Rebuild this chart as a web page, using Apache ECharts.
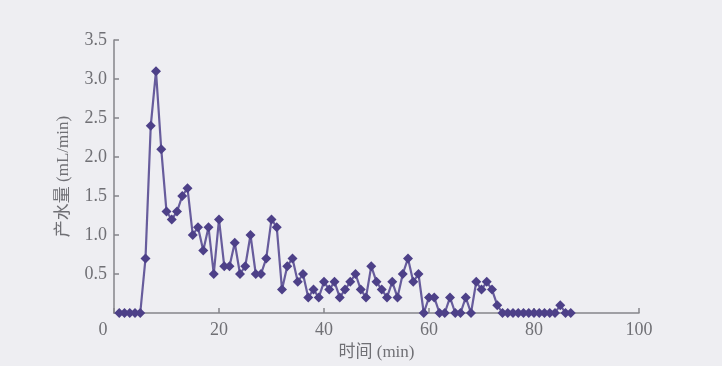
<!DOCTYPE html>
<html>
<head>
<meta charset="utf-8">
<script src="https://cdn.jsdelivr.net/npm/echarts@6/dist/echarts.min.js"></script>
<style>
  html, body { margin: 0; padding: 0; background: #eeeef2; }
  #main { width: 722px; height: 366px; }
</style>
</head>
<body>
<div id="main"></div>
<script>
// 时间 (min)
var minutes = [];
for (var m = 1; m <= 87; m++) minutes.push(m);

// 产水量 (mL/min), one reading per minute
var water = [
  0, 0, 0, 0, 0, 0.7, 2.4, 3.1, 2.1, 1.3,
  1.2, 1.3, 1.5, 1.6, 1.0, 1.1, 0.8, 1.1, 0.5, 1.2,
  0.6, 0.6, 0.9, 0.5, 0.6, 1.0, 0.5, 0.5, 0.7, 1.2,
  1.1, 0.3, 0.6, 0.7, 0.4, 0.5, 0.2, 0.3, 0.2, 0.4,
  0.3, 0.4, 0.2, 0.3, 0.4, 0.5, 0.3, 0.2, 0.6, 0.4,
  0.3, 0.2, 0.4, 0.2, 0.5, 0.7, 0.4, 0.5, 0, 0.2,
  0.2, 0, 0, 0.2, 0, 0, 0.2, 0, 0.4, 0.3,
  0.4, 0.3, 0.1, 0, 0, 0, 0, 0, 0, 0,
  0, 0, 0, 0, 0.1, 0, 0
];

var xTicks = [0, 20, 40, 60, 80, 100];
var yTicks = [0, 0.5, 1.0, 1.5, 2.0, 2.5, 3.0, 3.5];

var pts = minutes.map(function(t, i) { return [t, water[i]]; });

var textFont = "'Liberation Serif', 'DejaVu Serif', serif";
var cnFont = "'Liberation Serif', 'Noto Sans CJK SC', serif";
var axisGrey = '#85858a';
var labelGrey = '#707075';

var chart = echarts.init(document.getElementById('main'));
chart.setOption({
  backgroundColor: '#eeeef2',
  animation: false,
  grid: { left: 114, right: 83, top: 40, bottom: 53 },
  xAxis: {
    type: 'value',
    min: xTicks[0],
    max: xTicks[xTicks.length - 1],
    interval: 20,
    name: '时间 (min)',
    nameLocation: 'middle',
    nameGap: 31,
    nameTextStyle: { fontFamily: cnFont, fontSize: 17, color: labelGrey },
    axisLine: { lineStyle: { color: axisGrey, width: 1.5 } },
    axisTick: { inside: true, length: 5, lineStyle: { color: axisGrey, width: 1.5 } },
    splitLine: { show: false },
    axisLabel: {
      fontFamily: textFont,
      fontSize: 18,
      color: labelGrey,
      margin: 8,
      formatter: function(v) { return v === 0 ? '{z|0}' : String(v); },
      rich: { z: { fontFamily: textFont, fontSize: 18, color: labelGrey, padding: [0, 22, 0, 0] } }
    }
  },
  yAxis: {
    type: 'value',
    min: yTicks[0],
    max: yTicks[yTicks.length - 1],
    interval: 0.5,
    name: '产水量 (mL/min)',
    nameLocation: 'middle',
    nameGap: 42,
    nameTextStyle: { fontFamily: cnFont, fontSize: 17, color: labelGrey },
    axisLine: { show: true, lineStyle: { color: axisGrey, width: 1.5 } },
    axisTick: { show: true, inside: true, length: 5, lineStyle: { color: axisGrey, width: 1.5 } },
    splitLine: { show: false },
    axisLabel: {
      fontFamily: textFont,
      fontSize: 18,
      color: labelGrey,
      margin: 7,
      formatter: function(v) { return v === 0 ? '' : v.toFixed(1); }
    }
  },
  series: [{
    type: 'line',
    data: pts,
    symbol: 'diamond',
    symbolSize: 10,
    showAllSymbol: true,
    lineStyle: { color: '#675c9c', width: 2.2 },
    itemStyle: { color: '#4d4088' }
  }]
});
</script>
</body>
</html>
